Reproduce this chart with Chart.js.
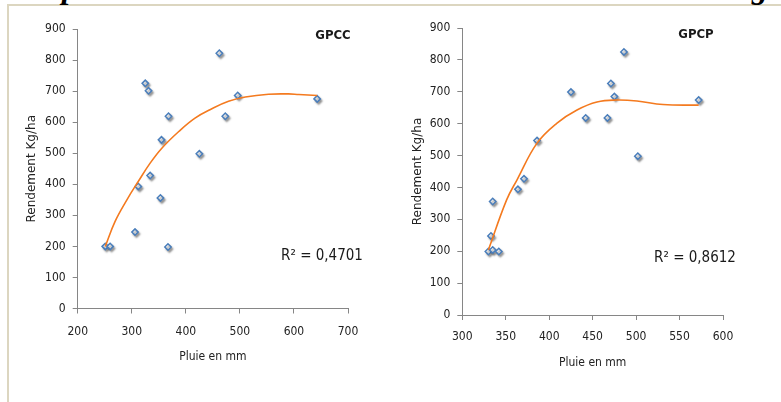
<!DOCTYPE html>
<html>
<head>
<meta charset="utf-8">
<script src="https://cdn.jsdelivr.net/npm/chart.js@4.4.1/dist/chart.umd.min.js"></script>
<style>
  body { margin: 0; background: #fff; width: 781px; height: 402px; overflow: hidden; position: relative; }
  #frame-top { position: absolute; left: 7px; top: 4px; width: 774px; height: 0; border-top: 2px solid #dcd6c0; }
  #frame-left { position: absolute; left: 7px; top: 4px; width: 0; height: 400px; border-left: 2px solid #dcd6c0; }
  .frag { position: absolute; top: -31px; font: bold italic 32px "Liberation Serif", serif; color: #000; }
  canvas { position: absolute; top: 0; }
  .lbl { position: absolute; transform: translate(-50%, -50%); white-space: nowrap; color: #1a1a1a;
         font-family: "Liberation Sans Narrow", "DejaVu Sans Condensed", sans-serif; }
  .ttl { font-weight: bold; font-size: 13px; }
  .r2 { font-size: 15px; }
</style>
</head>
<body>
<div id="frame-top"></div>
<div id="frame-left"></div>
<span class="frag" style="left:62px">p</span>
<span class="frag" style="left:752px">g</span>

<canvas id="gpcc" width="390" height="402" style="left:0"></canvas>
<canvas id="gpcp" width="391" height="402" style="left:390px"></canvas>

<div class="lbl ttl" style="left:333px; top:34px">GPCC</div>
<div class="lbl r2" style="left:322px; top:255px">R² = 0,4701</div>
<div class="lbl ttl" style="left:696px; top:33px">GPCP</div>
<div class="lbl r2" style="left:695px; top:257px">R² = 0,8612</div>

<script>
// GPCC : pluie (mm) / rendement (kg/ha)
var gpccPluie = [251, 260, 306, 312, 325, 331, 334, 353, 355, 367, 368, 425, 462, 473, 496, 643];
var gpccRend  = [200, 200, 246, 393, 725, 701, 428, 356, 543, 198, 619, 498, 822, 619, 686, 675];
// courbe de tendance
var gpccTrendX = [251, 269, 291, 312, 334, 356, 387, 417, 448, 479, 510, 553, 590, 609, 643];
var gpccTrendY = [200, 280, 350, 409, 468, 517, 570, 613, 643, 667, 681, 690, 691, 689, 686];

// GPCP
var gpcpPluie = [330, 333, 335, 335, 342, 364, 371, 386, 425, 442, 467, 471, 475, 486, 502, 572];
var gpcpRend  = [199, 248, 204, 356, 199, 394, 427, 547, 699, 618, 618, 726, 685, 825, 498, 674];
var gpcpTrendX = [330, 351, 363, 386, 409, 432, 455, 478, 501, 531, 572];
var gpcpTrendY = [204, 361, 424, 539, 602, 643, 668, 674, 671, 660, 658];

var xTicksGpcc = [200, 300, 400, 500, 600, 700];
var xTicksGpcp = [300, 350, 400, 450, 500, 550, 600];
var yTicks = [0, 100, 200, 300, 400, 500, 600, 700, 800, 900];

var axisColor = '#868686';
var tickFont = { family: '"Liberation Sans Narrow", "DejaVu Sans Condensed", sans-serif', size: 12 };

function toPoints(xs, ys) {
  return xs.map(function(x, i) { return { x: x, y: ys[i] }; });
}

// ombre sous les losanges
var shadowPlugin = {
  id: 'markerShadow',
  beforeDatasetDraw: function(chart, args) {
    if (args.index != 0) return;
    var c = chart.ctx;
    c.save();
    c.shadowColor = 'rgba(0,0,0,0.35)';
    c.shadowOffsetX = 1.5;
    c.shadowOffsetY = 2;
    c.shadowBlur = 2;
  },
  afterDatasetDraw: function(chart, args) {
    if (args.index != 0) return;
    chart.ctx.restore();
  }
};

function makeChart(id, px, py, tx, ty, xTicks, lay) {
  var el = document.getElementById(id);
  return new Chart(el, {
    type: 'scatter',
    data: {
      datasets: [{
        data: toPoints(px, py),
        pointStyle: 'rectRot',
        pointRadius: 3.2,
        borderWidth: 1.5,
        borderColor: '#4a7ebb',
        backgroundColor: '#ffffff',
        order: 2
      }, {
        type: 'line',
        data: toPoints(tx, ty),
        borderColor: '#f47a1f',
        borderWidth: 1.6,
        pointRadius: 0,
        fill: false,
        tension: 0.4,
        order: 1
      }]
    },
    options: {
      responsive: false,
      animation: false,
      devicePixelRatio: 1,
      layout: { padding: lay.pad },
      plugins: { legend: { display: false }, tooltip: { enabled: false } },
      scales: {
        x: {
          type: 'linear',
          min: xTicks[0],
          max: xTicks[xTicks.length - 1],
          afterBuildTicks: function(s) { s.ticks = xTicks.map(function(v) { return { value: v }; }); },
          afterFit: function(s) { s.height = lay.xh; },
          grid: { drawOnChartArea: false, tickLength: 5, color: axisColor },
          border: { color: axisColor },
          ticks: { font: tickFont, color: '#222', padding: lay.xpad },
          title: { display: true, text: 'Pluie en mm', font: tickFont, color: '#222', padding: 0 }
        },
        y: {
          min: 0,
          max: 900,
          afterBuildTicks: function(s) { s.ticks = yTicks.map(function(v) { return { value: v }; }); },
          afterFit: function(s) { s.width = lay.yw; },
          grid: { drawOnChartArea: false, tickLength: 5, color: axisColor },
          border: { color: axisColor },
          ticks: { font: tickFont, color: '#222', padding: 7 },
          title: { display: true, text: 'Rendement Kg/ha', color: '#222', padding: 0,
                   font: { family: '"DejaVu Sans", sans-serif', size: 12 } }
        }
      }
    },
    plugins: [shadowPlugin]
  });
}

makeChart('gpcc', gpccPluie, gpccRend, gpccTrendX, gpccTrendY, xTicksGpcc,
  { pad: { left: 25, top: 29, right: 42, bottom: 38 }, xh: 55.5, yw: 52.7, xpad: 11 });
makeChart('gpcp', gpcpPluie, gpcpRend, gpcpTrendX, gpcpTrendY, xTicksGpcp,
  { pad: { left: 21, top: 28, right: 58, bottom: 32 }, xh: 55, yw: 51.3, xpad: 10 });
</script>
</body>
</html>
